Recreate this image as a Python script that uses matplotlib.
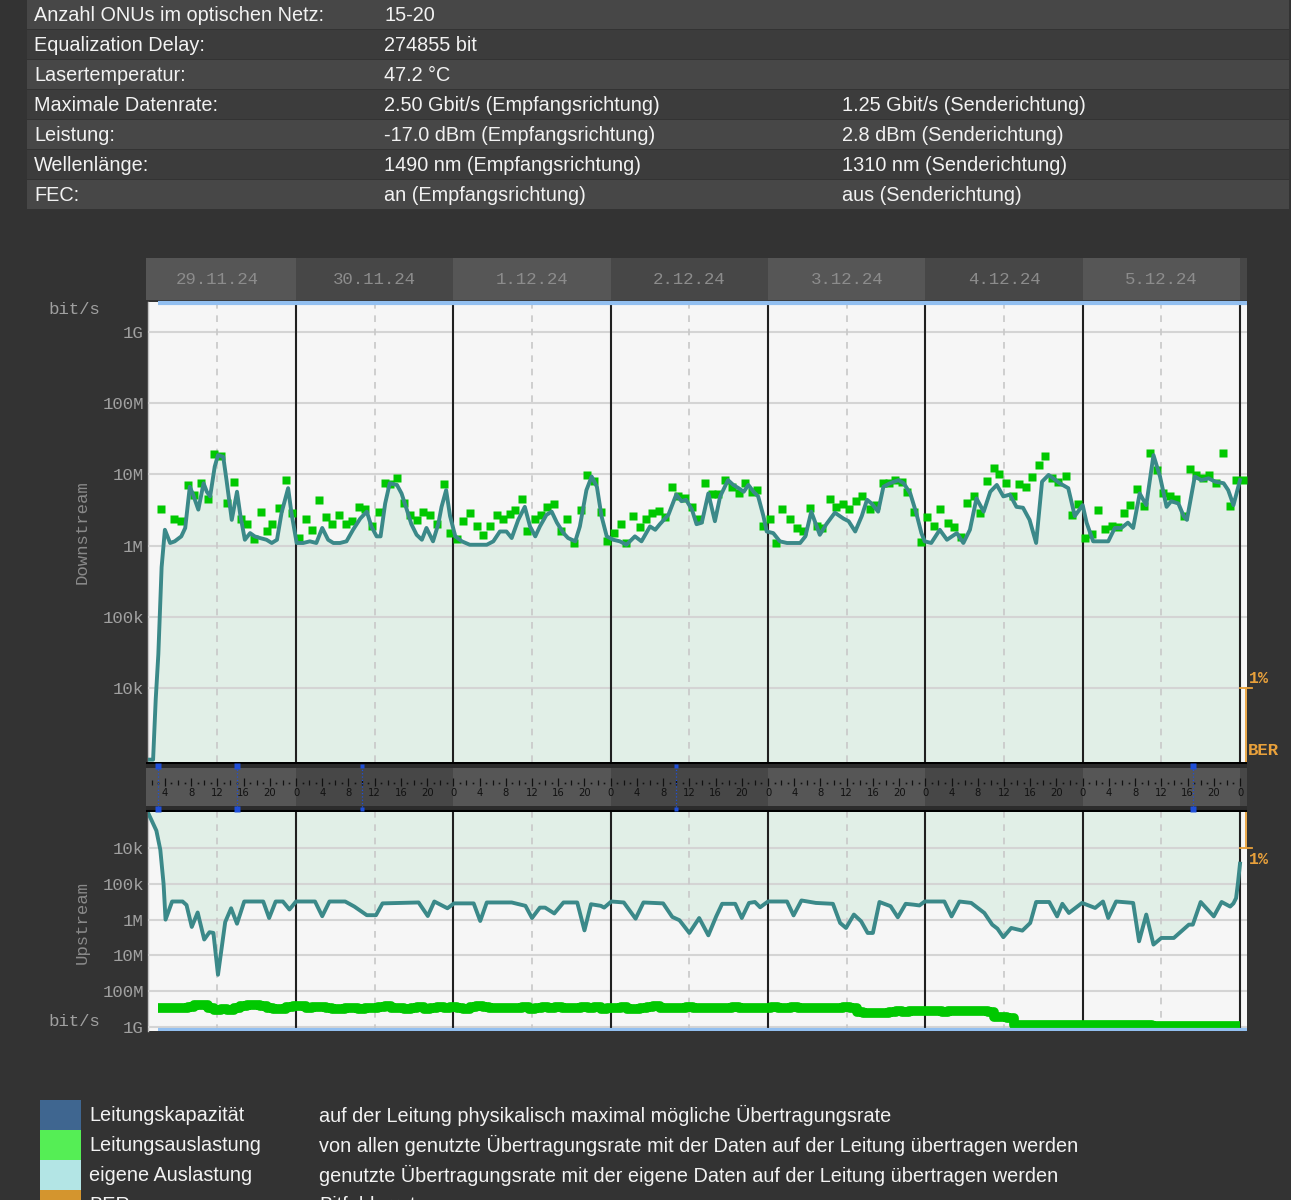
import matplotlib
matplotlib.use('Agg')
import matplotlib.pyplot as plt
import matplotlib.transforms as mtransforms
from matplotlib.patches import Rectangle
from matplotlib.ticker import NullLocator
import numpy as np

# ---------------- data ----------------
info_labels = ["Anzahl ONUs im optischen Netz:", "Equalization Delay:", "Lasertemperatur:",
               "Maximale Datenrate:", "Leistung:", "Wellenlänge:", "FEC:"]
info_rx = ["15-20", "274855 bit", "47.2 °C", "2.50 Gbit/s (Empfangsrichtung)",
           "-17.0 dBm (Empfangsrichtung)", "1490 nm (Empfangsrichtung)", "an (Empfangsrichtung)"]
info_tx = ["", "", "", "1.25 Gbit/s (Senderichtung)", "2.8 dBm (Senderichtung)",
           "1310 nm (Senderichtung)", "aus (Senderichtung)"]

days = ["29.11.24", "30.11.24", "1.12.24", "2.12.24", "3.12.24", "4.12.24", "5.12.24", ""]

# hours since 29.11. 0:00, values in Mbit/s
ds_own = [(1.42, 0.001), (2.2, 0.001), (2.6, 0.007), (3.0, 0.03), (3.5, 0.5), (4.0, 1.67),
          (4.8, 1.09), (5.5, 1.15), (6.5, 1.35), (7.1, 1.77), (7.8, 6.7), (8.3, 5.2), (9.1, 3.2),
          (9.9, 7.5), (10.4, 5.7), (10.9, 4.9), (11.6, 12.8), (12.1, 18.6), (12.9, 17.6),
          (13.4, 8.3), (14.2, 2.3), (15.0, 5.7), (15.5, 2.7), (16.2, 1.21), (17.0, 1.5),
          (17.7, 1.35), (18.5, 1.28), (19.5, 1.21), (20.3, 1.09), (21.1, 1.21), (21.8, 2.9),
          (22.8, 6.4), (23.3, 2.9), (24.1, 1.09), (25.1, 1.09), (26.1, 1.15), (27.1, 1.09),
          (28.0, 1.77), (28.9, 1.21), (29.7, 1.09), (30.7, 1.09), (31.7, 1.15), (32.7, 1.67),
          (33.8, 2.4), (34.8, 3.0), (35.5, 1.86), (36.3, 1.35), (36.9, 1.35), (37.6, 3.9),
          (38.3, 7.5), (39.4, 7.1), (40.1, 5.4), (40.9, 3.2), (41.6, 2.0), (42.4, 1.42),
          (43.2, 1.21), (43.9, 1.77), (44.9, 1.15), (45.7, 2.0), (46.2, 3.5), (46.9, 6.0),
          (47.5, 2.6), (48.3, 1.35), (49.3, 1.15), (50.5, 1.03), (51.6, 1.03), (53.1, 1.03),
          (54.1, 1.15), (55.1, 1.58), (56.1, 1.58), (56.9, 1.28), (57.9, 2.3), (58.9, 3.5),
          (59.7, 1.86), (60.5, 1.35), (61.2, 1.86), (62.2, 2.7), (63.0, 3.0), (63.8, 2.1),
          (64.8, 1.5), (65.5, 1.28), (66.6, 1.15), (67.3, 1.86), (68.3, 6.0), (69.1, 9.3),
          (69.9, 6.7), (70.6, 2.6), (71.4, 1.35), (72.4, 1.21), (73.4, 1.15), (74.4, 1.03),
          (75.7, 1.35), (76.7, 1.15), (78.0, 1.86), (78.8, 1.67), (79.5, 2.0), (80.8, 2.7),
          (82.0, 5.2), (82.8, 4.2), (83.5, 4.4), (84.4, 3.2), (85.1, 2.0), (85.9, 2.1),
          (86.9, 5.4), (87.9, 2.2), (88.7, 4.9), (89.9, 8.3), (90.7, 7.1), (91.5, 6.4),
          (92.3, 5.7), (93.0, 7.1), (93.8, 5.7), (94.5, 4.9), (95.3, 2.6), (95.8, 1.58),
          (96.8, 1.5), (97.8, 1.15), (98.9, 1.09), (99.9, 1.09), (100.9, 1.09), (101.7, 1.35),
          (102.6, 3.0), (103.9, 1.42), (104.9, 2.0), (106.2, 2.9), (107.5, 2.4), (108.3, 2.2),
          (109.3, 1.58), (110.3, 2.6), (111.1, 4.4), (111.8, 3.9), (112.8, 3.0), (113.6, 6.7),
          (114.6, 7.5), (115.9, 8.3), (116.7, 7.5), (117.7, 5.4), (118.6, 2.9), (119.4, 1.5),
          (119.9, 1.15), (120.9, 1.09), (122.2, 1.67), (123.3, 1.21), (124.8, 1.5),
          (125.8, 1.09), (126.8, 1.67), (127.8, 4.6), (128.9, 3.0), (129.9, 5.7), (130.9, 7.1),
          (131.9, 4.9), (132.9, 5.2), (133.9, 3.5), (134.9, 3.4), (135.9, 2.3), (136.9, 1.09),
          (137.8, 7.9), (138.8, 9.8), (139.5, 8.8), (140.5, 7.5), (141.8, 6.4), (142.8, 2.6),
          (144.0, 3.7), (144.6, 2.1), (145.6, 1.15), (146.6, 1.15), (147.9, 1.15), (148.9, 1.77),
          (149.9, 1.77), (150.9, 2.1), (151.7, 1.77), (152.7, 5.4), (153.7, 3.7), (154.8, 18.6),
          (155.8, 9.3), (156.8, 3.5), (157.5, 4.2), (158.6, 3.9), (159.4, 2.6), (159.9, 2.3),
          (161.1, 9.3), (162.1, 8.3), (163.2, 8.8), (164.2, 7.9), (165.5, 7.5), (166.2, 6.0),
          (167.0, 3.7), (168.0, 8.3)]

ds_total = [(3.4, 3.3), (5.4, 2.4), (6.4, 2.25), (7.5, 7.1), (8.5, 5.2), (9.5, 7.5), (10.5, 4.5),
            (11.5, 19), (12.6, 18), (13.5, 4.0), (14.6, 7.7), (15.6, 2.4), (16.6, 2.0),
            (17.6, 1.24), (18.6, 3.0), (19.5, 1.58), (20.4, 2.0), (21.4, 3.4), (22.4, 8.3),
            (23.4, 2.9), (24.5, 1.28), (25.5, 2.4), (26.5, 1.64), (27.5, 4.4), (28.5, 2.5),
            (29.5, 2.0), (30.6, 2.65), (31.6, 2.0), (32.6, 2.25), (33.6, 3.5), (34.6, 3.25),
            (35.6, 1.86), (36.6, 3.0), (37.6, 7.6), (38.4, 7.3), (39.4, 8.8), (40.4, 4.0),
            (41.4, 2.7), (42.4, 2.3), (43.4, 3.0), (44.4, 2.7), (45.5, 2.0), (46.5, 7.3),
            (47.5, 1.5), (48.5, 1.24), (49.5, 2.2), (50.5, 2.9), (51.6, 1.86), (52.6, 1.42),
            (53.6, 1.86), (54.6, 2.7), (55.6, 2.4), (56.6, 2.8), (57.4, 3.2), (58.4, 4.5),
            (59.3, 1.58), (60.4, 2.4), (61.4, 2.7), (62.3, 3.5), (63.4, 3.85), (64.4, 1.58),
            (65.4, 2.35), (66.4, 1.09), (67.4, 3.2), (68.4, 9.8), (69.5, 8.1), (70.5, 3.0),
            (71.5, 1.15), (72.5, 1.5), (73.5, 2.03), (74.4, 1.09), (75.4, 2.6), (76.4, 1.8),
            (77.4, 2.4), (78.3, 2.9), (79.3, 3.1), (80.3, 2.5), (81.3, 6.7), (82.3, 4.9),
            (83.3, 4.6), (84.4, 3.5), (85.4, 2.4), (86.4, 7.5), (87.4, 5.25), (88.3, 5.25),
            (89.4, 8.3), (90.5, 6.7), (91.5, 5.5), (92.5, 7.5), (93.5, 5.7), (94.3, 6.0),
            (95.3, 1.86), (96.3, 2.35), (97.2, 1.09), (98.2, 3.3), (99.4, 2.35), (100.4, 1.77),
            (101.3, 1.58), (102.4, 3.4), (103.4, 1.86), (104.3, 1.77), (105.4, 4.5), (106.4, 3.5),
            (107.4, 3.85), (108.4, 3.25), (109.4, 4.2), (110.4, 5.0), (111.5, 3.3), (112.5, 3.7),
            (113.5, 7.5), (114.5, 7.6), (115.4, 8.3), (116.4, 7.9), (117.2, 5.7), (118.2, 3.0),
            (119.3, 1.11), (120.3, 2.5), (121.3, 1.9), (122.3, 3.3), (123.4, 2.07), (124.4, 1.8),
            (125.4, 1.32), (126.4, 3.9), (127.4, 5.0), (128.4, 2.85), (129.4, 8.1), (130.4, 12.1),
            (131.3, 10.0), (132.3, 7.65), (133.3, 5.0), (134.3, 7.3), (135.4, 6.7), (136.3, 9.1),
            (137.3, 13.5), (138.3, 18.0), (139.3, 8.8), (140.3, 7.9), (141.4, 9.5), (142.4, 2.7),
            (143.3, 3.8), (144.4, 1.28), (145.4, 1.47), (146.4, 3.2), (147.4, 1.73), (148.4, 1.86),
            (149.4, 1.82), (150.3, 2.85), (151.2, 3.7), (152.3, 6.2), (153.3, 3.6), (154.3, 19.6),
            (155.3, 11.5), (156.3, 5.4), (157.3, 5.0), (158.3, 4.5), (159.4, 2.6), (160.3, 11.7),
            (161.3, 9.8), (162.3, 8.8), (163.3, 9.8), (164.4, 7.5), (165.4, 20.0), (166.4, 3.65),
            (167.4, 8.3), (168.4, 8.3)]

us_own = [(1.42, 0.001), (2.7, 0.0032), (3.3, 0.011), (3.8, 0.1), (4.1, 1.0), (5.1, 0.31),
          (6.7, 0.31), (7.3, 0.39), (8.1, 1.6), (9.0, 0.63), (10.0, 3.6), (10.8, 2.25),
          (11.4, 2.35), (12.1, 35), (13.2, 1.17), (14.1, 0.48), (15.0, 1.3), (16.1, 0.31),
          (19.0, 0.31), (19.9, 0.9), (20.9, 0.31), (22.0, 0.31), (23.0, 0.52), (24.0, 0.31),
          (26.9, 0.31), (28.0, 0.8), (29.1, 0.31), (31.5, 0.31), (32.9, 0.43), (34.8, 0.75),
          (36.2, 0.75), (37.2, 0.35), (42.7, 0.33), (44.1, 0.79), (45.1, 0.31), (47.1, 0.48),
          (48.1, 0.35), (51.1, 0.35), (52.1, 1.09), (53.1, 0.33), (56.9, 0.33), (59.0, 0.41),
          (60.0, 0.9), (61.2, 0.46), (62.0, 0.46), (63.4, 0.67), (64.8, 0.33), (66.9, 0.33),
          (68.0, 2.0), (69.0, 0.37), (70.5, 0.41), (71.0, 0.46), (72.1, 0.31), (74.0, 0.33),
          (75.8, 0.94), (77.0, 0.33), (80.0, 0.35), (81.4, 0.84), (82.5, 1.04), (84.0, 2.36),
          (85.5, 0.9), (86.9, 2.75), (88.1, 0.81), (89.0, 0.36), (91.0, 0.36), (92.0, 0.9),
          (93.1, 0.34), (94.0, 0.32), (94.8, 0.45), (96.0, 0.31), (98.9, 0.31), (99.9, 0.76),
          (101.1, 0.29), (103.3, 0.34), (105.9, 0.36), (107.0, 1.24), (107.9, 1.71), (109.1, 0.72),
          (110.2, 1.11), (111.2, 2.36), (112.0, 2.36), (113.0, 0.32), (114.7, 0.42), (115.8, 0.86),
          (117.0, 0.36), (118.2, 0.38), (119.1, 0.40), (119.9, 0.31), (122.9, 0.31), (124.0, 0.81),
          (125.2, 0.31), (127.0, 0.34), (129.0, 0.65), (130.2, 1.38), (131.0, 1.79), (131.9, 3.1),
          (133.1, 1.71), (134.8, 2.03), (136.0, 1.24), (136.9, 0.32), (138.9, 0.32), (140.1, 0.81),
          (140.9, 0.36), (141.9, 0.65), (143.9, 0.34), (145.9, 0.47), (147.1, 0.31), (147.9, 0.9),
          (149.1, 0.31), (151.7, 0.34), (152.6, 4.05), (153.7, 0.72), (154.8, 5.0), (156.0, 3.26),
          (157.9, 3.26), (160.2, 1.38), (160.8, 1.38), (162.0, 0.32), (164.0, 0.81), (165.2, 0.32),
          (166.5, 0.43), (167.0, 0.35), (167.4, 0.25), (167.7, 0.09), (168.0, 0.027)]

# hourly, starting at 3:00 on 29.11. (Mbit/s)
us_total = [300, 300, 300, 300, 300,
            280, 250, 250, 290, 335, 315, 335, 300,
            265, 250, 250, 265, 290, 315, 315, 280,
            265, 265, 300, 280, 280, 290, 315, 315,
            300, 300, 315, 300, 290, 280, 265, 290,
            300, 315, 300, 280, 315, 300, 280, 300,
            280, 300, 315, 280, 265, 280, 290, 300,
            300, 300, 290, 280, 315, 300, 280, 300,
            280, 290, 300, 290, 280, 290, 280, 315,
            300, 290, 280, 315, 315, 300, 280, 265,
            300, 290, 300, 290, 280, 300, 290, 300,
            290, 300, 290, 280, 300, 290, 300, 290,
            290, 280, 300, 290, 280, 300, 290, 300,
            290, 300, 290, 300, 280, 290, 400, 420,
            415, 420, 410, 380, 370, 380, 360, 370,
            370, 360, 370, 380, 370, 360, 370, 370,
            360, 370, 380, 550, 550, 560, 870, 870,
            870, 880, 870, 870, 870, 880, 870, 870,
            880, 880, 890, 890, 900, 900, 900, 910,
            910, 920, 920, 940, 940, 950, 950, 950,
            950, 950, 950, 960, 950, 950, 950, 950, 950]
us_total_start = 3

ds_capacity = 2500  # Mbit/s
us_capacity = 1250
capacity_start = 3.0

event_hours = [2.94, 15.0, 34.07, 82.0, 160.8]
event_sizes = [4.5, 4.5, 3.0, 3.0, 4.5]

y_ticks = [1e4, 1e5, 1e6, 1e7, 1e8, 1e9]
tick_labels = ["10k", "100k", "1M", "10M", "100M", "1G"]

legend_colors = ["#3f6690", "#55ee55", "#b3e5e5", "#d4952e"]
legend_names = ["Leitungskapazität", "Leitungsauslastung", "eigene Auslastung", "BER"]
legend_desc = ["auf der Leitung physikalisch maximal mögliche Übertragungsrate",
               "von allen genutzte Übertragungsrate mit der Daten auf der Leitung übertragen werden",
               "genutzte Übertragungsrate mit der eigene Daten auf der Leitung übertragen werden",
               "Bitfehlerrate"]

# ---------------- layout ----------------
W, H = 1291, 1200
BG = '#333333'
MONO = 'Liberation Mono'
SANS = 'Liberation Sans'
TXT = 14.3
TEAL = '#3b8989'
GREEN = '#00c800'
FILL = '#e1efe7'
BLUE = '#92bff0'
ORANGE = '#e9a13b'
LIGHT_DAY, DARK_DAY = '#565656', '#474747'

h0_px, px_per_h = 138.67, 6.5556   # pixel of 29.11 0:00, pixels per hour


def hx(px):
    return (px - h0_px) / px_per_h


def rect(l, t, r, b):
    return [l / W, 1 - b / H, (r - l) / W, (b - t) / H]


fig = plt.figure(figsize=(W / 100, H / 100), dpi=100)
fig.patch.set_facecolor(BG)

bg = fig.add_axes([0, 0, 1, 1])
bg.set_xlim(0, W)
bg.set_ylim(H, 0)
bg.axis('off')
bg.set_zorder(-5)

# info table
for i, lab in enumerate(info_labels):
    top = i * 30
    bg.add_patch(Rectangle((27, top), W - 29, 29, color='#474747' if i % 2 == 0 else '#3c3c3c', lw=0))
    yc = top + 15.5
    bg.text(34, yc, lab, color='#f2f2f2', fontsize=TXT, family=SANS, va='center')
    bg.text(384, yc, info_rx[i], color='#f2f2f2', fontsize=TXT, family=SANS, va='center')
    if info_tx[i]:
        bg.text(842, yc, info_tx[i], color='#f2f2f2', fontsize=TXT, family=SANS, va='center')

# legend (last row is cut by the lower edge, as in the original page)
for i, c in enumerate(legend_colors):
    top = 1100 + i * 30
    bg.add_patch(Rectangle((40, top), 41, 30, color=c, lw=0))
    bg.text(89, top + 15.5, legend_names[i], color='#f2f2f2', fontsize=TXT, family=SANS, va='center')
    bg.text(319, top + 15.5, legend_desc[i], color='#f2f2f2', fontsize=TXT, family=SANS, va='center')

# axis titles
bg.text(74, 310, "bit/s", color='#a0a0a0', fontsize=12.5, family=MONO, ha='center', va='center')
bg.text(74, 1022, "bit/s", color='#a0a0a0', fontsize=12.5, family=MONO, ha='center', va='center')
bg.text(82, 532, "Downstream", color='#8a8a8a', fontsize=12.5, family=MONO, rotation=90,
        ha='center', va='center')
bg.text(82, 922, "Upstream", color='#8a8a8a', fontsize=12.5, family=MONO, rotation=90,
        ha='center', va='center')

xl_plot = (hx(148), hx(1247))
xl_band = (hx(146), hx(1247))

# date header
ax_h = fig.add_axes(rect(146, 258, 1247, 300))
ax_h.set_xlim(*xl_band)
ax_h.set_ylim(0, 1)
ax_h.axis('off')
for d, lab in enumerate(days):
    ax_h.axvspan(24 * d, 24 * d + 24, color=LIGHT_DAY if d % 2 == 0 else DARK_DAY, lw=0)
    if lab:
        ax_h.text(24 * d + 12, 0.5, lab, color='#8c8c8c', fontsize=12.5, family=MONO,
                  ha='center', va='center')


def style_plot(ax):
    ax.set_yscale('log')
    ax.set_xlim(*xl_plot)
    ax.set_facecolor('#f6f6f6')
    ax.set_xticks([])
    ax.set_yticks(y_ticks)
    ax.set_yticklabels(tick_labels)
    ax.yaxis.set_minor_locator(NullLocator())
    ax.tick_params(axis='y', length=0, pad=3, labelsize=12.5, labelcolor='#a0a0a0',
                   labelfontfamily=MONO)
    ax.set_axisbelow(False)
    ax.grid(axis='y', color='#d4d4d4', lw=1.5)
    for s in ['top', 'right', 'bottom']:
        ax.spines[s].set_visible(False)
    ax.spines['left'].set_color('#c4c4c4')
    ax.spines['left'].set_linewidth(1.0)
    for d in range(1, 8):
        ax.axvline(24 * d, color='#202020', lw=1.5, zorder=2.6)
    for d in range(7):
        ax.axvline(24 * d + 12, color='#c8c8c8', lw=1.2, dashes=(4, 4), zorder=2.6)


# downstream
ax_ds = fig.add_axes(rect(148, 302, 1247, 762))
style_plot(ax_ds)
ax_ds.set_ylim(10 ** 2.967, 10 ** 9.416)
h_ds, v_ds = zip(*ds_own)
v_ds = np.array(v_ds) * 1e6
ax_ds.fill_between(h_ds, 1e2, v_ds, color=FILL, lw=0, zorder=1)
h_tot, v_tot = zip(*ds_total)
ax_ds.plot(h_tot, np.array(v_tot) * 1e6, 's', ms=5.4, color=GREEN, mec='none', zorder=3)
ax_ds.plot(h_ds, v_ds, color=TEAL, lw=2.8, zorder=4)
ax_ds.hlines(ds_capacity * 1e6, capacity_start, xl_plot[1], color=BLUE, lw=3, zorder=5,
             clip_on=False)

# upstream (inverted)
ax_us = fig.add_axes(rect(148, 812, 1247, 1031))
style_plot(ax_us)
ax_us.set_ylim(1.32e9, 962)
h_us, v_us = zip(*us_own)
v_us = np.array(v_us) * 1e6
ax_us.fill_between(h_us, 1e2, v_us, color=FILL, lw=0, zorder=1)
h_ust = np.arange(us_total_start, us_total_start + len(us_total))
ax_us.plot(h_ust, np.array(us_total) * 1e6, drawstyle='steps-mid', lw=7, color=GREEN,
           solid_capstyle='butt', zorder=3)
ax_us.hlines(us_capacity * 1e6, capacity_start, xl_plot[1], color=BLUE, lw=3, zorder=3.5)
ax_us.plot(h_us, v_us, color=TEAL, lw=2.8, zorder=4)

# BER markers
for ax, up in [(ax_ds, False), (ax_us, True)]:
    tr = mtransforms.blended_transform_factory(ax.transAxes, ax.transData)
    lo, hi = ax.get_ylim()
    end = hi if up else lo
    ax.plot([0.999, 0.999], [1e4, end], color=ORANGE, lw=1.3, transform=tr, clip_on=False, zorder=6)
    ax.plot([0.994, 1.005], [1e4, 1e4], color=ORANGE, lw=1.3, transform=tr, clip_on=False, zorder=6)
    ax.annotate("1%", xy=(1.0, 1e4), xycoords=tr, xytext=(1.5, 2 if not up else -3),
                textcoords='offset points', va='top' if up else 'bottom', ha='left',
                color=ORANGE, fontsize=12, family=MONO, weight='bold')
    if not up:
        ax.annotate("BER", xy=(1.0, lo), xycoords=tr, xytext=(0.5, 3), textcoords='offset points',
                    va='bottom', ha='left', color=ORANGE, fontsize=12.5, family=MONO,
                    weight='bold')

# time strip
ax_t = fig.add_axes(rect(146, 762, 1247, 812))
ax_t.set_xlim(*xl_band)
ax_t.set_ylim(50, 0)
ax_t.set_facecolor('#2c2c2c')
ax_t.set_xticks([])
ax_t.set_yticks([])
for s in ax_t.spines.values():
    s.set_visible(False)
for d in range(8):
    ax_t.axvspan(24 * d, 24 * d + 24, ymin=0.12, ymax=0.88,
                 color=LIGHT_DAY if d % 2 == 0 else DARK_DAY, lw=0)
ax_t.axhline(0.8, color='black', lw=1.5)
ax_t.axhline(49.2, color='black', lw=1.5)
for h in range(2, 169):
    if h % 4 == 0:
        ax_t.vlines(h, 16, 24, color='#111111', lw=0.9)
        ax_t.text(h, 30.5, str(h % 24), fontsize=7.2, family='DejaVu Sans', color='#111111',
                  ha='center', va='center')
    elif h % 2 == 0:
        ax_t.vlines(h, 18, 23, color='#111111', lw=0.9)
    else:
        ax_t.plot(h, 20.5, 's', ms=1.2, color='#111111', mec='none')
for h, s in zip(event_hours, event_sizes):
    ax_t.vlines(h, 4, 47, color='#1f4fd8', lw=0.9, linestyles=':')
    ax_t.plot([h, h], [4, 47], 's', ms=s, color='#1f4fd8', mec='none', clip_on=False)

fig.savefig('out.png', dpi=100, facecolor=BG)
